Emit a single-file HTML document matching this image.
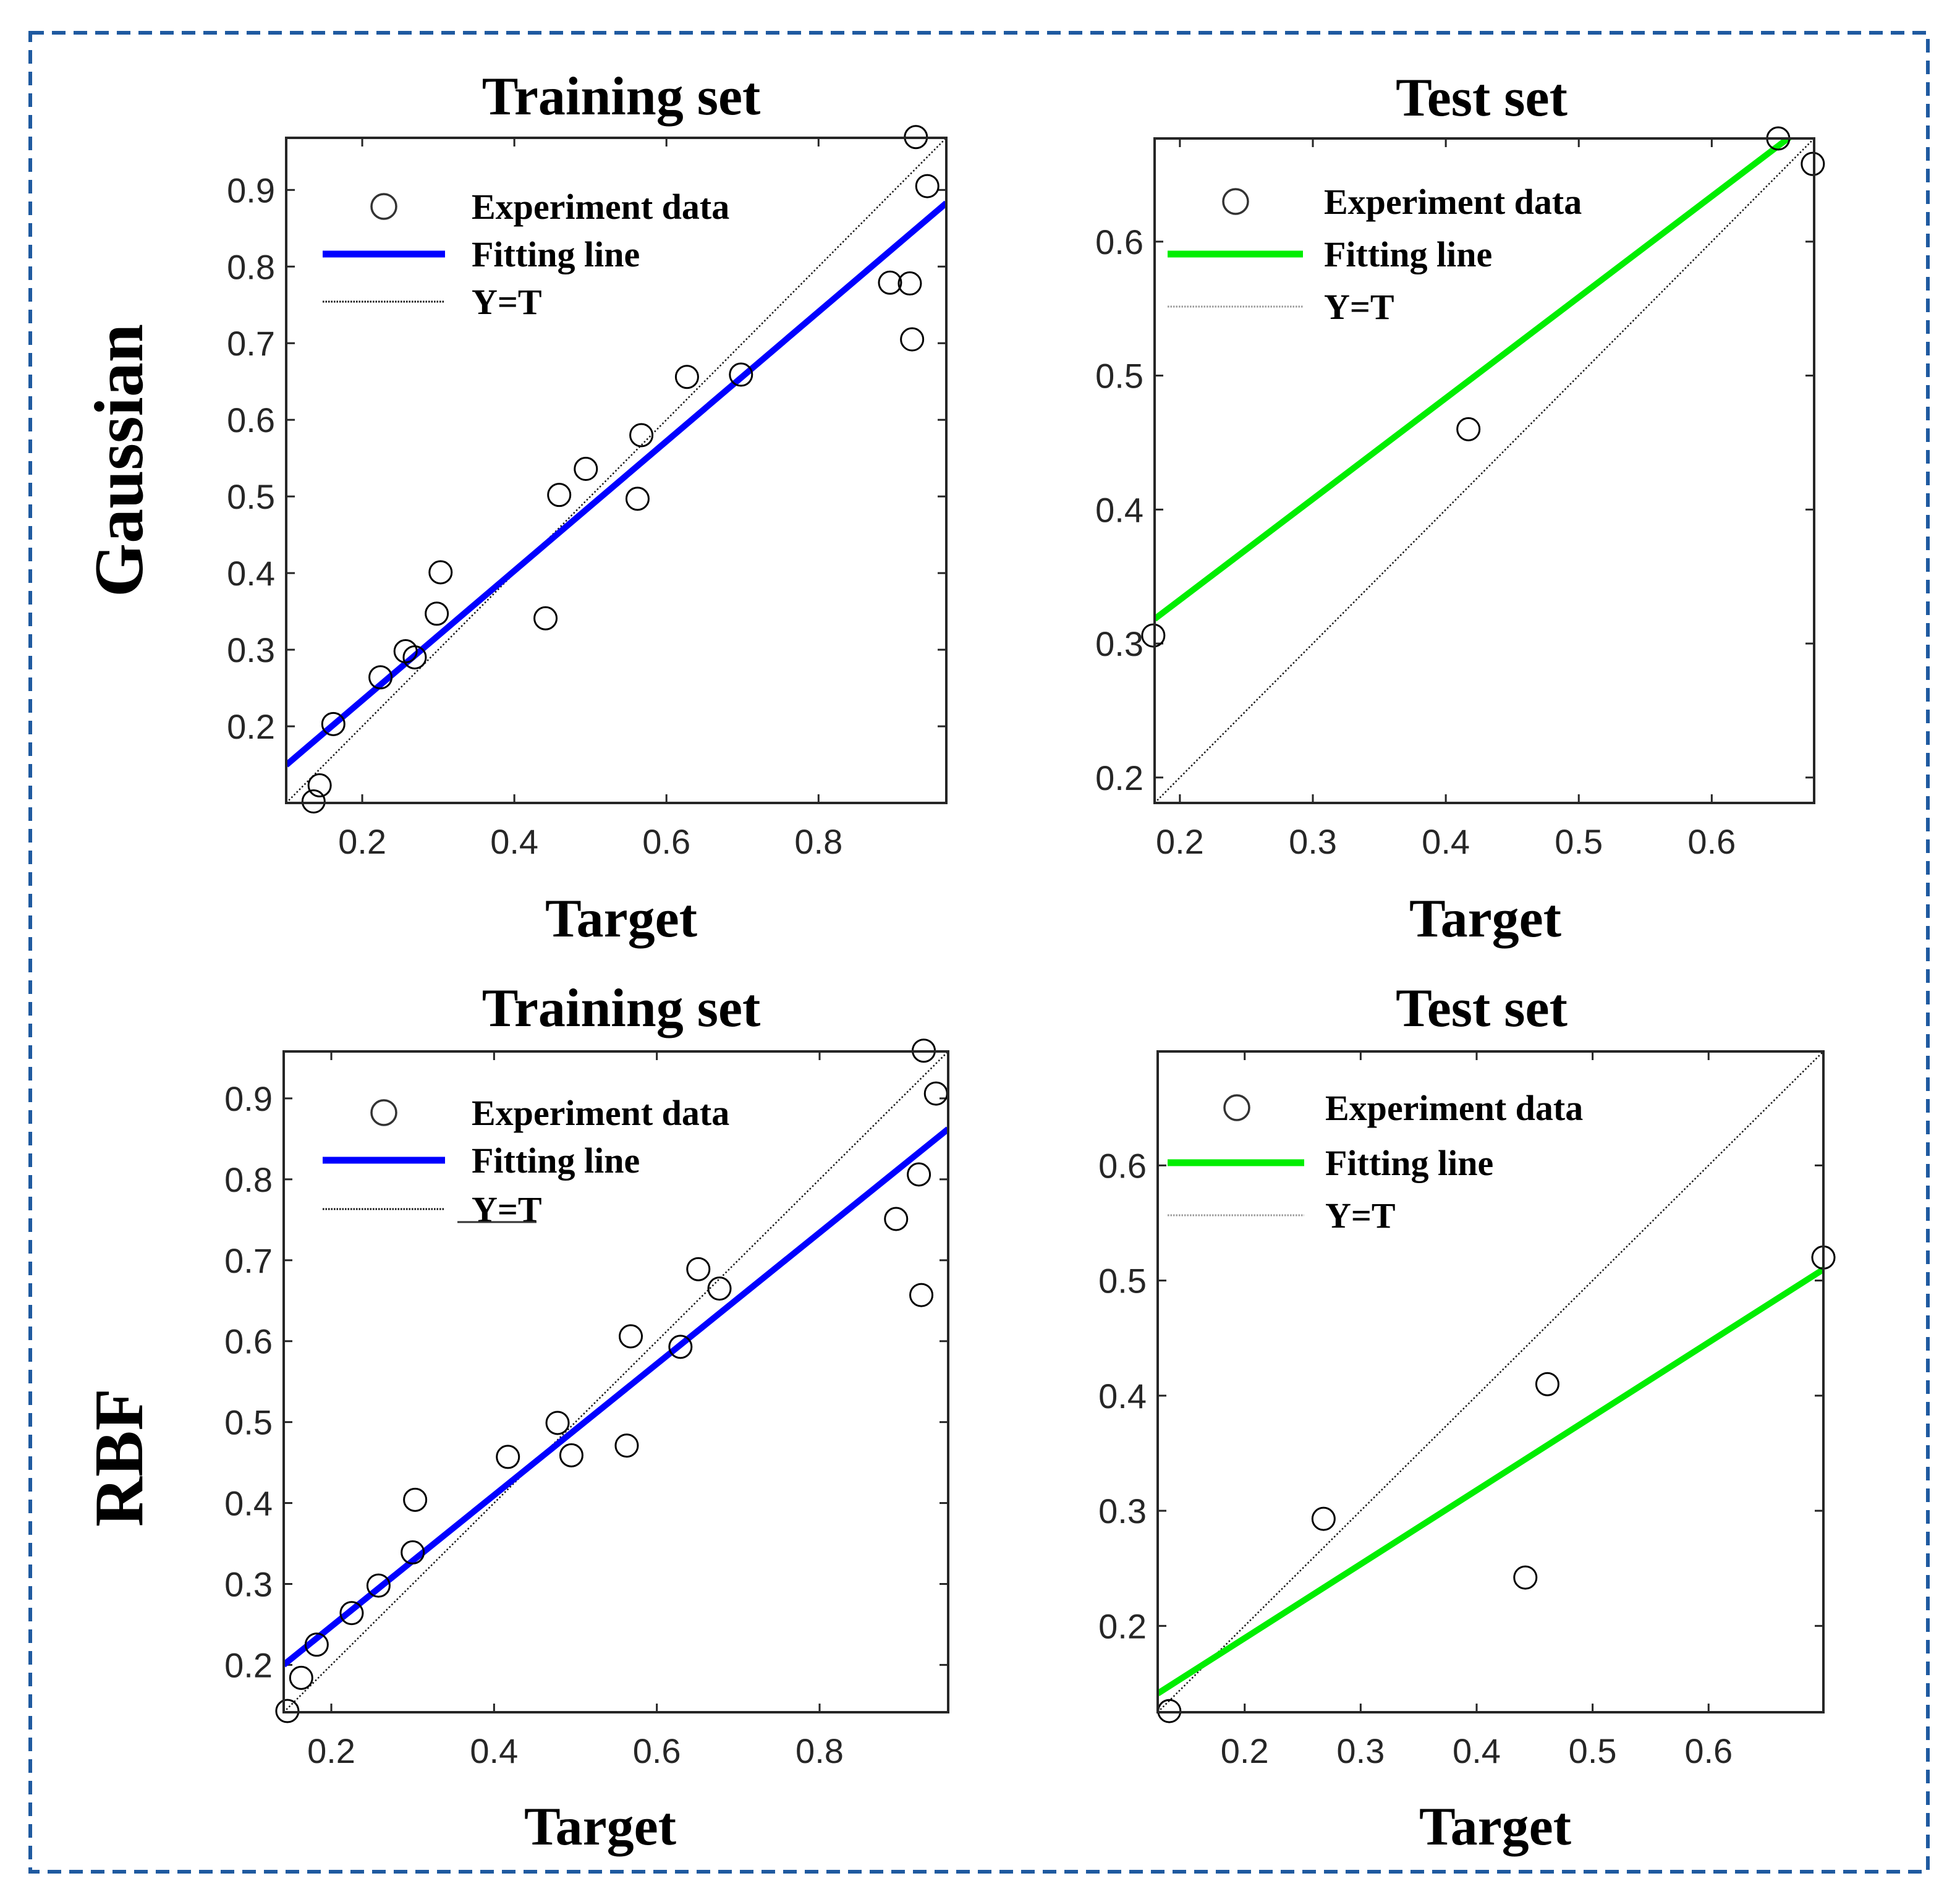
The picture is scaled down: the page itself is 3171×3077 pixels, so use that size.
<!DOCTYPE html>
<html><head><meta charset="utf-8"><style>
html,body{margin:0;padding:0;background:#fff}
svg{display:block}
.t{font-family:"Liberation Serif",serif;font-weight:bold;fill:#000}
.k{font-family:"Liberation Sans",sans-serif;fill:#262626;font-size:56px}
</style></head><body>
<svg id="fig" width="3171" height="3077" viewBox="0 0 3171 3077" xmlns="http://www.w3.org/2000/svg">
<rect x="49" y="53" width="3070" height="2975" fill="none" stroke="#1f5aa0" stroke-width="6" stroke-dasharray="22,13"/>
<text class="t" font-size="112" text-anchor="middle" transform="translate(230,745) rotate(-90)">Gaussian</text>
<text class="t" font-size="112" text-anchor="middle" transform="translate(230,2358) rotate(-90)">RBF</text>
</svg>
<script>
// Gaussian training
const gtrX=[0.928,0.943,0.894,0.920,0.923,0.698,0.627,0.567,0.494,0.459,0.562,0.303,0.298,0.441,0.257,0.269,0.224,0.162,0.144,0.136];
const gtrY=[0.969,0.905,0.779,0.778,0.705,0.659,0.656,0.580,0.536,0.502,0.497,0.401,0.347,0.341,0.298,0.290,0.264,0.203,0.123,0.102];
const gtrFit=[0.845,0.065];
// Gaussian test
const gteX=[0.180,0.417,0.650,0.676];
const gteY=[0.306,0.460,0.677,0.658];
const gteFit=[0.753,0.182];
// RBF training
const rtrX=[0.928,0.943,0.922,0.894,0.925,0.651,0.677,0.568,0.629,0.478,0.495,0.417,0.563,0.303,0.300,0.258,0.225,0.182,0.163,0.146];
const rtrY=[0.959,0.906,0.806,0.751,0.657,0.689,0.665,0.606,0.593,0.499,0.459,0.457,0.471,0.404,0.339,0.298,0.264,0.225,0.184,0.143];
const rtrFit=[0.811,0.0853];
// RBF test
const rteX=[0.135,0.268,0.461,0.442,0.699];
const rteY=[0.126,0.293,0.410,0.242,0.520];
const rteFit=[0.642,0.061];
// tick labels
const trTicksX=["0.2","0.4","0.6","0.8"];
const trTicksY=["0.2","0.3","0.4","0.5","0.6","0.7","0.8","0.9"];
const teTicksX=["0.2","0.3","0.4","0.5","0.6"];
const teTicksY=["0.2","0.3","0.4","0.5","0.6"];

const NS="http://www.w3.org/2000/svg";
const svg=document.getElementById('fig');
function mk(tag,attrs,parent){const e=document.createElementNS(NS,tag);for(const k in attrs)e.setAttribute(k,attrs[k]);(parent||svg).appendChild(e);return e;}

const panels=[
 {id:'gauss-train',L:463,T:223,R:1531,B:1299,lo:0.1,hi:0.968,xs:gtrX,ys:gtrY,fit:gtrFit,col:'#0000ff',tx:trTicksX,ty:trTicksY,title:'Training set',tcx:1005,tcy:185,xlx:1005,xly:1515,
  leg:{mx:621,lx0:522,lx1:720,tx:763,y:[334,411,488]}},
 {id:'gauss-test',L:1868,T:224,R:2935,B:1299,lo:0.181,hi:0.677,xs:gteX,ys:gteY,fit:gteFit,col:'#00ee00',tx:teTicksX,ty:teTicksY,title:'Test set',tcx:2397,tcy:187,xlx:2403,xly:1515,
  leg:{mx:1999,lx0:1889,lx1:2108,tx:2142,y:[326,411,496]}},
 {id:'rbf-train',L:459,T:1701,R:1534,B:2770,lo:0.1415,hi:0.958,xs:rtrX,ys:rtrY,fit:rtrFit,col:'#0000ff',tx:trTicksX,ty:trTicksY,title:'Training set',tcx:1005,tcy:1660,xlx:971,xly:2984,
  leg:{mx:621,lx0:522,lx1:720,tx:763,y:[1800,1877,1956]},under:true},
 {id:'rbf-test',L:1873,T:1701,R:2950,B:2770,lo:0.125,hi:0.699,xs:rteX,ys:rteY,fit:rteFit,col:'#00ee00',tx:teTicksX,ty:teTicksY,title:'Test set',tcx:2397,tcy:1660,xlx:2419,xly:2984,
  leg:{mx:2001,lx0:1889,lx1:2110,tx:2144,y:[1792,1881,1966]}}
];

panels.forEach(p=>{
  const g=mk('g',{});
  
  
  const sx=v=>p.L+(v-p.lo)/(p.hi-p.lo)*(p.R-p.L);
  const sy=v=>p.B-(v-p.lo)/(p.hi-p.lo)*(p.B-p.T);
  const cp='clip-'+p.id;
  const cpe=mk('clipPath',{id:cp},g);mk('rect',{x:p.L,y:p.T,width:p.R-p.L,height:p.B-p.T},cpe);
  const tt=mk('text',{x:p.tcx,y:p.tcy,'text-anchor':'middle','font-size':88,class:'t'},g);tt.textContent=p.title;
  
  
  const xl=mk('text',{x:p.xlx,y:p.xly,'text-anchor':'middle','font-size':88,class:'t'},g);xl.textContent='Target';
  
  
  p.tx.forEach(s=>{const v=parseFloat(s),x=sx(v);
    mk('line',{x1:x,y1:p.B,x2:x,y2:p.B-14,stroke:'#262626','stroke-width':3},g);
    mk('line',{x1:x,y1:p.T,x2:x,y2:p.T+14,stroke:'#262626','stroke-width':3},g);
    const t=mk('text',{x:x,y:p.B+82,'text-anchor':'middle',class:'k'},g);t.textContent=s;
    
    });
  p.ty.forEach(s=>{const v=parseFloat(s),y=sy(v);
    mk('line',{x1:p.L,y1:y,x2:p.L+14,y2:y,stroke:'#262626','stroke-width':3},g);
    mk('line',{x1:p.R,y1:y,x2:p.R-14,y2:y,stroke:'#262626','stroke-width':3},g);
    const t=mk('text',{x:p.L-18,y:y+20,'text-anchor':'end',class:'k'},g);t.textContent=s;
    
    });
  const yt=mk('line',{x1:sx(p.lo),y1:sy(p.lo),x2:sx(p.hi),y2:sy(p.hi),stroke:'#111','stroke-width':2.5,'stroke-dasharray':'2.5,3.5','clip-path':'url(#'+cp+')'},g);
  
  
  const [m,b]=p.fit;
  const fl=mk('line',{x1:sx(p.lo),y1:sy(m*p.lo+b),x2:sx(p.hi),y2:sy(m*p.hi+b),stroke:p.col,'stroke-width':10,'clip-path':'url(#'+cp+')'},g);
  
  
  p.xs.forEach((xv,i)=>{const c=mk('circle',{cx:sx(xv),cy:sy(p.ys[i]),r:18,fill:'none',stroke:'#000','stroke-width':3},g);
    
    });
  mk('rect',{x:p.L,y:p.T,width:p.R-p.L,height:p.B-p.T,fill:'none',stroke:'#262626','stroke-width':4},g);
  const lg=mk('g',{},g);
  
  
  const L=p.leg;
  mk('circle',{cx:L.mx,cy:L.y[0],r:20,fill:'none',stroke:'#333','stroke-width':3.5},lg);
  mk('line',{x1:L.lx0,y1:L.y[1],x2:L.lx1,y2:L.y[1],stroke:p.col,'stroke-width':11},lg);
  mk('line',{x1:L.lx0,y1:L.y[2],x2:L.lx1,y2:L.y[2],stroke:p.col=='#0000ff'?'#111':'#999','stroke-width':3,'stroke-dasharray':'2.5,2'},lg);
  ['Experiment data','Fitting line','Y=T'].forEach((s,i)=>{const t=mk('text',{x:L.tx,y:L.y[i]+20,'font-size':58,class:'t'},lg);t.textContent=s;
    
    });
  if(p.under) mk('line',{x1:740,y1:1977,x2:868,y2:1977,stroke:'#333','stroke-width':3},lg);
});
</script>
</body></html>
